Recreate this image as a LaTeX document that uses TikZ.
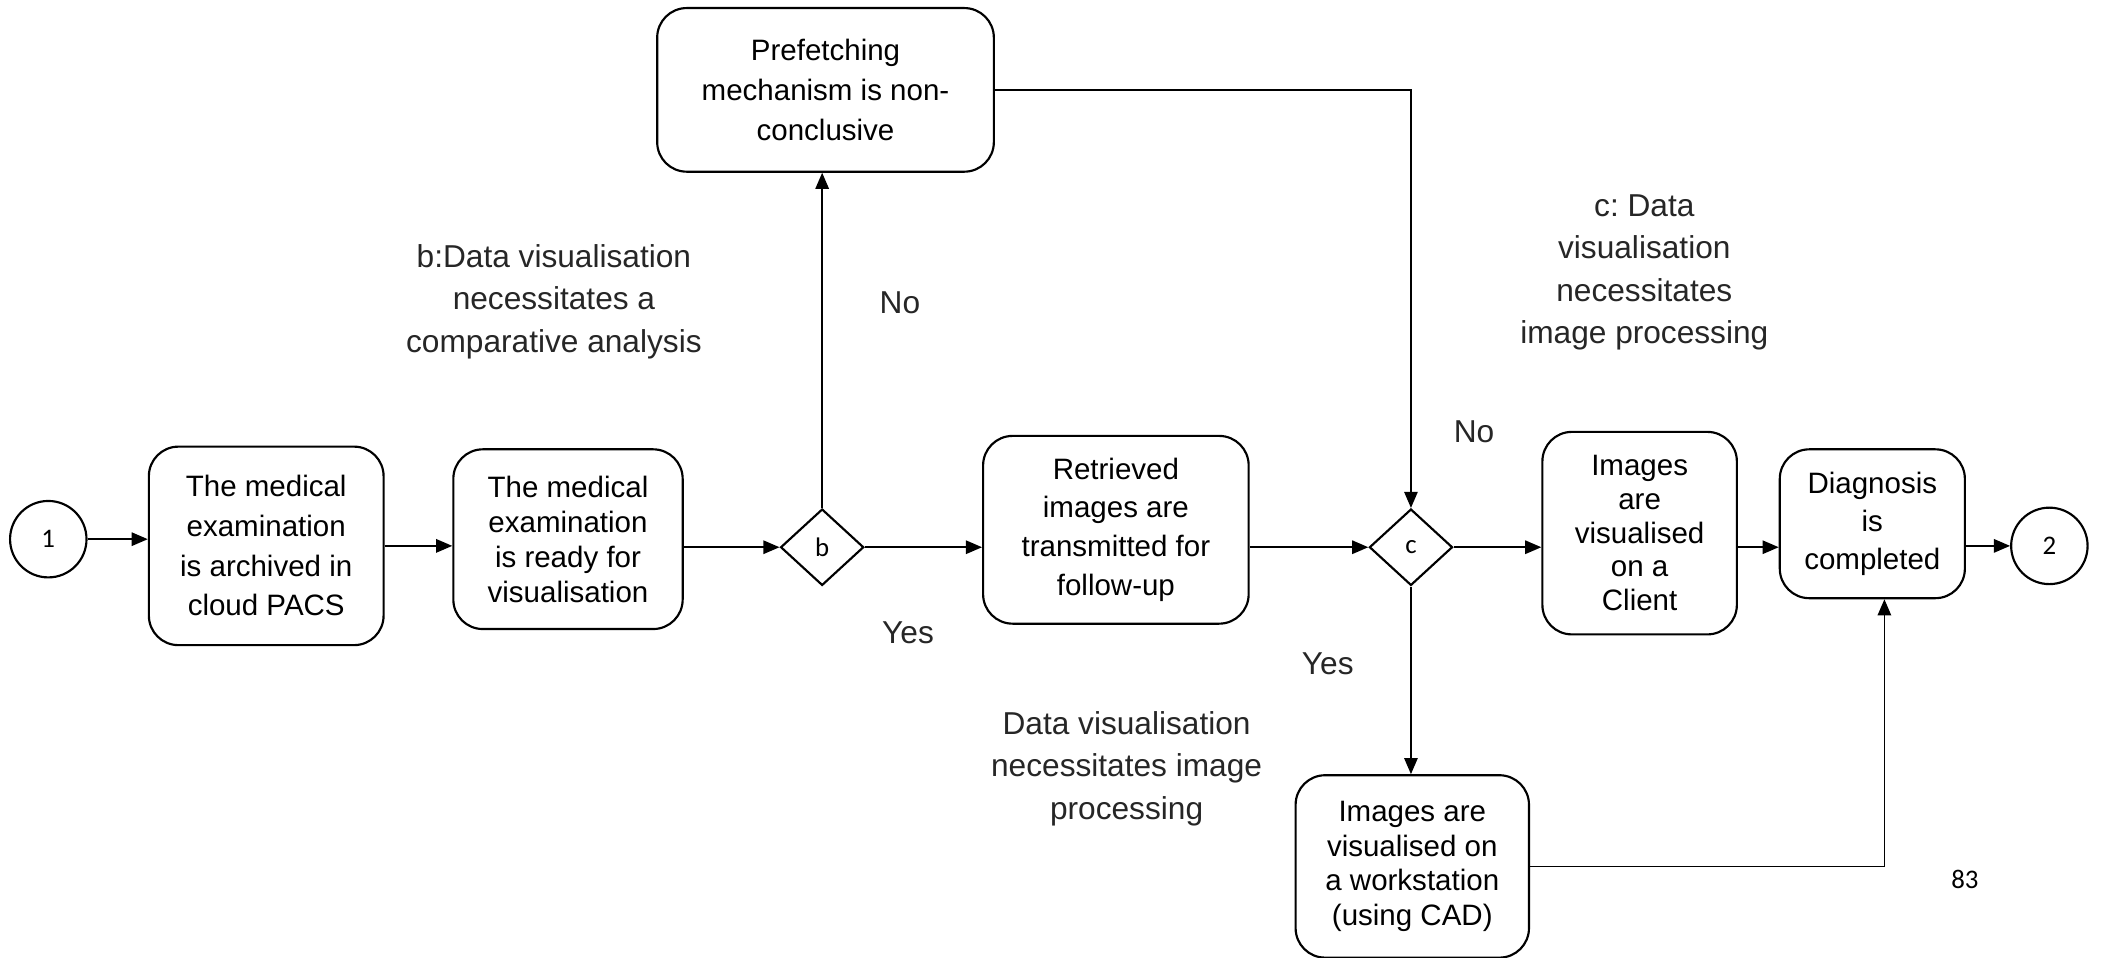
\documentclass[tikz,border=0pt]{standalone}
\usepackage{fontspec}
\setmainfont{Liberation Sans}
\newfontfamily\calfont{Carlito}
\usetikzlibrary{arrows.meta}
\usetikzlibrary{shapes.geometric}

\tikzset{
  proc/.style={draw, rounded corners=11pt, line width=0.8pt, align=center, inner sep=2pt},
  decide/.style={draw, diamond, line width=0.8pt, inner sep=0pt, minimum width=31pt, minimum height=28.5pt, font=\calfont\fontsize{10}{12}\selectfont},
  endpt/.style={draw, circle, line width=0.8pt, minimum size=28.5pt, inner sep=0pt, font=\calfont\fontsize{10}{12}\selectfont},
  note/.style={align=center, text=black!85, font=\fontsize{11.8}{15.8}\selectfont},
  arr/.style={-{Triangle[length=6pt,width=5pt]}, line width=0.6pt}
}

\begin{document}
\begin{tikzpicture}[x=0.5pt, y=-0.5pt]
  \useasboundingbox (0,0) rectangle (1568,714);

  % main flow
  \node[endpt] (c1) at (36,402) {1};
  \node[proc, minimum width=87.5pt, minimum height=74pt, font=\fontsize{11}{14.8}\selectfont] (box1) at (198.5,407)
    {The medical\\examination\\is archived in\\cloud PACS};
  \node[proc, minimum width=85.5pt, minimum height=67pt, font=\fontsize{11}{13}\selectfont] (box2) at (423.5,402)
    {The medical\\examination\\is ready for\\visualisation};
  \node[decide] (b) at (613,408) {b};
  \node[proc, minimum width=99pt, minimum height=70pt, font=\fontsize{11}{14.5}\selectfont] (box3) at (832,395)
    {Retrieved\\images are\\transmitted for\\follow-up};
  \node[decide] (c) at (1052,408) {c};
  \node[proc, minimum width=72.5pt, minimum height=75.5pt, font=\fontsize{11}{12.6}\selectfont] (box4) at (1222.5,397.5)
    {Images\\are\\visualised\\on a\\Client};
  \node[proc, minimum width=69pt, minimum height=55.5pt, font=\fontsize{11}{14.3}\selectfont] (box5) at (1396,390.5)
    {Diagnosis\\is\\completed};
  \node[endpt] (c2) at (1528,407) {2};

  % branches
  \node[proc, minimum width=125.5pt, minimum height=61pt, font=\fontsize{11}{15}\selectfont] (pref) at (615.5,67)
    {Prefetching\\mechanism is non-\\conclusive};
  \node[proc, minimum width=87pt, minimum height=68pt, font=\fontsize{11}{12.9}\selectfont] (ws) at (1053,646)
    {Images are\\visualised on\\a workstation\\(using CAD)};

  % labels
  \node[note] (qb) at (413,225) {b:Data visualisation\\necessitates a\\comparative analysis};
  \node[note] (nob) at (671,226) {No};
  \node[note] (yesb) at (677,472) {Yes};
  \node[note] (qc) at (1226,203) {c:\ Data\\visualisation\\necessitates\\image processing};
  \node[note] (noc) at (1099,322) {No};
  \node[note] (yesc) at (990,495) {Yes};
  \node[note] (qd) at (840,573) {Data visualisation\\necessitates image\\processing};
  \node[font=\calfont\fontsize{10}{12}\selectfont] (pg) at (1465,656) {83};

  % connectors
  \draw[arr] (c1) -- (c1 -| box1.west);
  \draw[arr] (box1.east) -- (box1.east -| box2.west);
  \draw[arr] (box2.east |- b) -- (b.west);
  \draw[arr] (b.east) -- (b -| box3.west);
  \draw[arr] (box3.east |- c) -- (c.west);
  \draw[arr] (c.east) -- (c -| box4.west);
  \draw[arr] (box4.east |- c) -- (c -| box5.west);
  \draw[arr] (box5.east |- c2) -- (c2.west);
  \draw[arr] (b.north) -- (b.north |- pref.south);
  \draw[arr] (pref.east) -| (c.north);
  \draw[arr] (c.south) -- (c.south |- ws.north);
  \draw[arr] (ws.east) -| ([xshift=4.5pt]box5.south);
\end{tikzpicture}
\end{document}
